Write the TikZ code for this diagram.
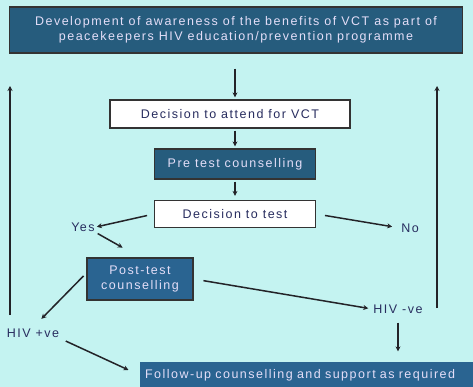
\documentclass[tikz,border=0pt]{standalone}
\usepackage{fontspec}
\setmainfont{Liberation Sans}
\newfontfamily\widefont[LetterSpace=12]{Liberation Sans}
\usetikzlibrary{arrows.meta}
\begin{document}
\begin{tikzpicture}[x=1pt,y=-1pt]
            % Define colors
            \definecolor{bgcyan}{RGB}{196,243,241}
            \definecolor{darkbox}{RGB}{38,92,125}
            \definecolor{midbox}{RGB}{42,100,145}
            \definecolor{boxtext}{RGB}{228,222,248}
            \definecolor{navytext}{RGB}{40,45,95}
            \definecolor{arrowgray}{RGB}{35,35,40}
            \tikzset{
              darkstep/.style={draw=black!80,line width=1.2pt,fill=darkbox,text=boxtext,inner sep=2pt,align=center,font=\widefont\fontsize{12.5}{15}\selectfont},
              lightstep/.style={draw=black!80,line width=1.2pt,fill=white,text=navytext,inner sep=2pt,font=\widefont\fontsize{12.5}{15}\selectfont},
              outcome/.style={text=navytext,inner sep=1pt,font=\widefont\fontsize{12.5}{15}\selectfont},
              arr/.style={draw=arrowgray,line width=1.5pt,-{Stealth[length=5pt,width=5pt]}}
            }

            % Background and page size
            \fill[bgcyan] (0,0) rectangle (473,387);
            \useasboundingbox (0,0) rectangle (473,387);

            % Draw the boxes
            \node[darkstep,minimum width=453pt,minimum height=46pt] (aware) at (236,30) {Development of awareness of the benefits of VCT as part of\\peacekeepers HIV education/prevention programme};
            \node[lightstep,minimum width=240pt,minimum height=28pt] (attend) at (230,114) {Decision to attend for VCT};
            \node[darkstep,minimum width=161pt,minimum height=30pt] (pretest) at (235,164) {Pre test counselling};
            \node[lightstep,minimum width=161pt,minimum height=27pt] (dectest) at (235,214) {Decision to test};
            \node[darkstep,fill=midbox,minimum width=106pt,minimum height=42pt] (posttest) at (140,279) {Post-test\\counselling};
            \node[darkstep,fill=midbox,draw=none,minimum width=340pt,minimum height=26pt,text width=330pt,align=left] (followup) at (310,375) {Follow-up counselling and support as required};

            % Draw the outcomes
            \node[outcome] (yes) at (83,227) {Yes};
            \node[outcome] (no) at (410,228) {No};
            \node[outcome] (hivneg) at (398,309) {HIV -ve};
            \node[outcome] (hivpos) at (33,333) {HIV +ve};

            % Ends of the return lines
            \coordinate (lowleft) at (10,315);
            \coordinate (topleft) at (10,86);
            \coordinate (lowright) at (437,308);
            \coordinate (topright) at (437,86);

            % Draw the arrows
            \draw[arr,shorten <=15pt,shorten >=2pt] (aware.south -| pretest.north) -- (attend.north -| pretest.north);
            \draw[arr,shorten <=2pt,shorten >=2pt] (attend.south -| pretest.north) -- (pretest.north);
            \draw[arr,shorten <=2pt,shorten >=4pt] (pretest.south) -- (dectest.north);
            \draw[arr,shorten <=7pt,shorten >=1pt] (dectest.west) -- (yes.east);
            \draw[arr,shorten <=9pt,shorten >=8pt] (dectest.east) -- (no.west);
            \draw[arr,shorten <=2pt,shorten >=20pt] (yes.south east) -- (posttest.north);
            \draw[arr,shorten <=10pt,shorten >=4pt] (posttest.east) -- (hivneg.west);
            \draw[arr,shorten <=4pt,shorten >=12pt] ([yshift=6pt]posttest.west) -- (hivpos.north);
            \draw[arr,shorten <=8pt,shorten >=10pt] (hivneg.south) -- (hivneg.south |- followup.north);
            \draw[arr,shorten <=6pt,shorten >=12pt] (hivpos.south east) -- (followup.west);
            \draw[arr] (lowleft) -- (topleft);
            \draw[arr] (lowright) -- (topright);
        \end{tikzpicture}
\end{document}
